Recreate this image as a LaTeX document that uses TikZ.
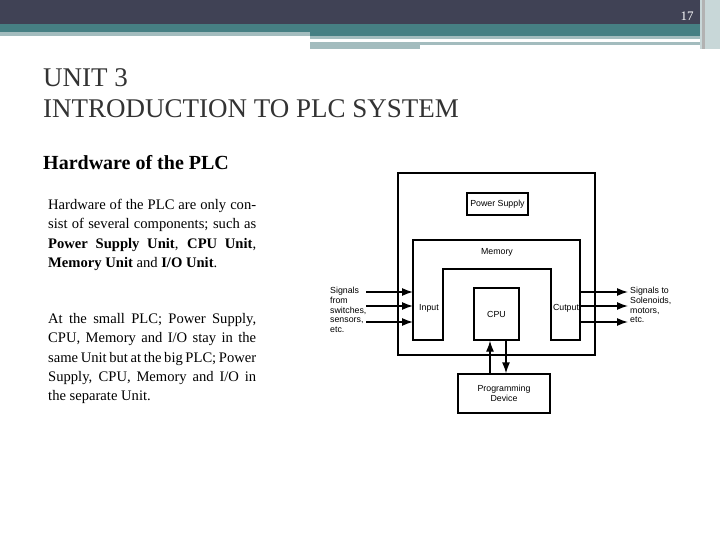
\documentclass[tikz,border=0pt]{standalone}
\usetikzlibrary{arrows.meta}
\usepackage{fontspec}
\setmainfont{Liberation Serif}
\newfontfamily\dsans{Liberation Sans}
\begin{document}
\begin{tikzpicture}[x=1pt,y=-1pt,
  box/.style={draw,line width=1.3pt},
  lbl/.style={font=\dsans\fontsize{8.8}{9.8}\selectfont,inner sep=0},
  arr/.style={line width=1.3pt,-{Latex[length=11pt,width=8pt]}}]
\useasboundingbox (0,0) rectangle (720,540);
\definecolor{hdr}{HTML}{404255}\definecolor{teal}{HTML}{467F83}\definecolor{lt}{HTML}{A3BCBE}
\fill[white] (0,0) rectangle (720,540);
\fill[hdr] (0,0) rectangle (720,24);
\fill[teal] (0,24) rectangle (720,32);
\fill[lt] (0,32) rectangle (310,36);
\fill[teal] (310,32) rectangle (700,36);
\fill[lt] (310,36) rectangle (700,39);
\fill[lt] (310,42) rectangle (700,45);
\fill[lt] (310,45) rectangle (420,49);
\fill[lt!60] (700,0) rectangle (720,49);
\fill[gray!60] (702,0) rectangle (705,49);
\node[text=white,font=\fontsize{13}{14}\selectfont] (pg) at (687,16) {17};
\node[anchor=west,font=\fontsize{27}{33}\selectfont,text=black!80,align=left,inner sep=0] (title) at (43,93) {UNIT 3\\[-2pt]INTRODUCTION TO PLC SYSTEM};
\node[anchor=west,font=\bfseries\fontsize{20}{24}\selectfont,inner sep=0] (sub) at (43,163) {Hardware of the PLC};
\node[anchor=north west,text width=208pt,align=justify,font=\fontsize{14.6}{19.4}\selectfont,inner sep=0] (p1) at (48,199)
 {Hardware of the PLC are only consist of several components; such as \textbf{Power Supply Unit}, \textbf{CPU Unit}, \textbf{Memory Unit} and \textbf{I/O Unit}.};
\node[anchor=north west,text width=208pt,align=justify,font=\fontsize{14.6}{19.4}\selectfont,inner sep=0] (p2) at (48,313)
 {At the small PLC; Power Supply, CPU, Memory and I/O stay in the same Unit but at the big PLC; Power Supply, CPU, Memory and I/O in the separate Unit.};
% diagram
\draw[box] (398,173) rectangle (595,355);
\node[box,minimum width=61pt,minimum height=22pt,lbl] (ps) at (497.5,204) {Power Supply};
\draw[box] (413,340) -- (413,240) -- (580,240) -- (580,340) -- (551,340) -- (551,269) -- (443,269) -- (443,340) -- cycle;
\node[lbl] (mem) at (497,252) {Memory};
\node[lbl] (inp) at (429,308) {Input};
\node[lbl] (outp) at (566,308) {Cutput};
\node[box,minimum width=45pt,minimum height=52pt,lbl] (cpu) at (496.5,314) {CPU};
\node[box,minimum width=92pt,minimum height=39pt,lbl,align=center] (pd) at (504,393.5) {Programming\\Device};
\draw[arr] (pd.north -| 490,0) -- (cpu.south -| 490,0);
\draw[arr] (cpu.south -| 506,0) -- (pd.north -| 506,0);
\coordinate (i1) at (366,292);\coordinate (i2) at (366,306);\coordinate (i3) at (366,322);
\draw[arr] (i1) -- (413,292); \draw[arr] (i2) -- (413,306); \draw[arr] (i3) -- (413,322);
\coordinate (o1) at (628,292);\coordinate (o2) at (628,306);\coordinate (o3) at (628,322);
\draw[arr] (580,292) -- (o1); \draw[arr] (580,306) -- (o2); \draw[arr] (580,322) -- (o3);
\node[lbl,anchor=north west,align=left] (sin) at (330,287) {Signals\\from\\switches,\\sensors,\\etc.};
\node[lbl,anchor=north west,align=left] (sout) at (630,287) {Signals to\\Solenoids,\\motors,\\etc.};
\end{tikzpicture}
\end{document}
